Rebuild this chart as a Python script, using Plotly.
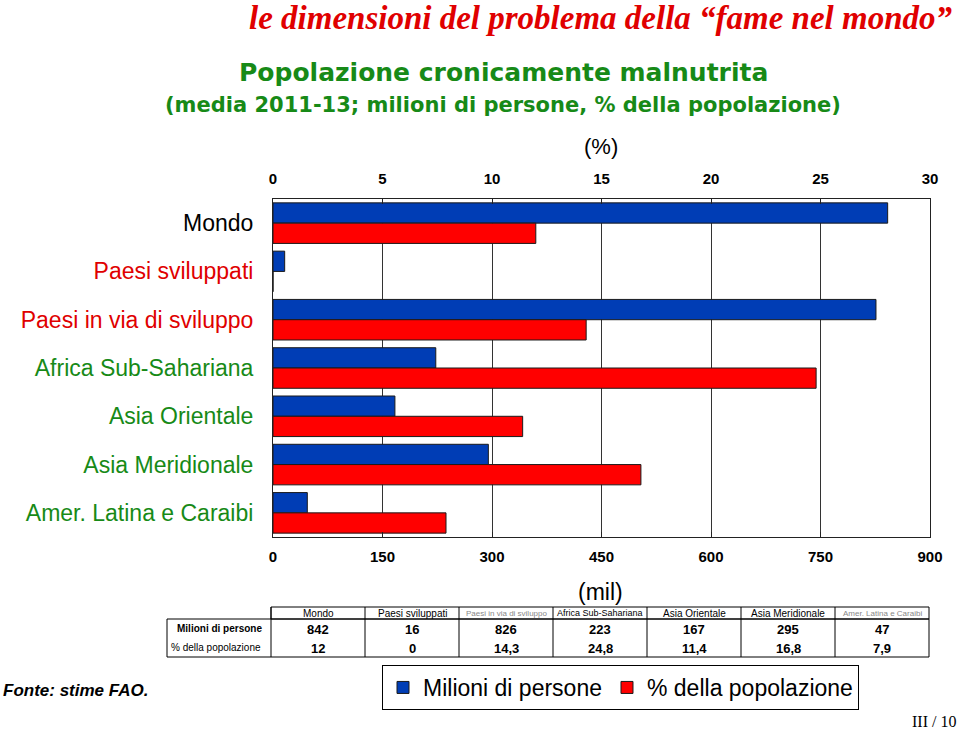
import plotly.graph_objects as go

# ---------------- data ----------------
categories = ["Mondo", "Paesi sviluppati", "Paesi in via di sviluppo",
              "Africa Sub-Sahariana", "Asia Orientale", "Asia Meridionale",
              "Amer. Latina e Caraibi"]
milioni = [842, 16, 826, 223, 167, 295, 47]
percentuale = [12, 0, 14.3, 24.8, 11.4, 16.8, 7.9]
label_colors = ["#000000", "#e00000", "#e00000", "#178a17", "#178a17", "#178a17", "#178a17"]
mil_ticks = [0, 150, 300, 450, 600, 750, 900]
pct_ticks = [0, 5, 10, 15, 20, 25, 30]
series_names = ["Milioni di persone", "% della popolazione"]
row_labels = ["Milioni di persone", "% della popolazione"]

W, H = 960, 729
def px(x):
    return x / W
def py(y):
    return 1 - y / H

BLUE = "#003db5"
RED = "#ff0000"
GREEN = "#178a17"

fig = go.Figure()
fig.add_trace(go.Bar(
    y=categories, x=milioni, orientation="h", name=series_names[0],
    marker=dict(color=BLUE, line=dict(color="#1a1a1a", width=1)),
    width=0.42, offset=-0.42, xaxis="x", yaxis="y"))
fig.add_trace(go.Bar(
    y=categories, x=percentuale, orientation="h", name=series_names[1],
    marker=dict(color=RED, line=dict(color="#1a1a1a", width=1)),
    width=0.42, offset=0.0, xaxis="x2", yaxis="y"))

tick_font = dict(family="Liberation Sans", size=15, color="black", weight="bold")
ticktext = [f"<span style='color:{c}'>{t}</span>" for t, c in zip(categories, label_colors)]

fig.update_layout(
    width=W, height=H, margin=dict(l=0, r=0, t=0, b=0),
    paper_bgcolor="white", plot_bgcolor="white",
    showlegend=True, barmode="overlay",
    xaxis=dict(domain=[px(273), px(930)], range=[0, 900], tickvals=mil_ticks,
               ticks="inside", ticklen=5, tickcolor="#222",
               showgrid=True, gridcolor="#333", gridwidth=1,
               showline=True, linecolor="#222", linewidth=1, mirror=True,
               zeroline=False, tickfont=tick_font, automargin=False,
               ticklabelstandoff=6, anchor="y"),
    xaxis2=dict(overlaying="x", side="top", range=[0, 30], tickvals=pct_ticks,
                ticks="inside", ticklen=5, tickcolor="#222",
                showgrid=False, showline=False, zeroline=False,
                tickfont=tick_font, automargin=False, anchor="y",
                ticklabelstandoff=11),
    yaxis=dict(domain=[py(537), py(199)], type="category",
               categoryorder="array", categoryarray=categories,
               range=[6.5, -0.5], tickvals=categories, ticktext=ticktext,
               showline=True, linecolor="#222", linewidth=1, mirror=True,
               showgrid=False, ticks="", automargin=False,
               ticklabelstandoff=14,
               tickfont=dict(family="Liberation Sans", size=23)),
    legend=dict(orientation="h", x=px(382), y=py(665), xanchor="left", yanchor="top",
                bordercolor="black", borderwidth=1, bgcolor="white",
                font=dict(family="Liberation Sans", size=23, color="black"),
                traceorder="normal", itemwidth=30),
)

ann = []
ann.append(dict(text="le dimensioni del problema della \u201cfame nel mondo\u201d",
                x=px(954), y=py(18), xanchor="right", yanchor="middle",
                font=dict(family="Liberation Serif", size=33, color="#e00000",
                          weight="bold", style="italic")))
ann.append(dict(text="Popolazione cronicamente malnutrita",
                x=px(503), y=py(73), xanchor="center", yanchor="middle",
                font=dict(family="DejaVu Sans", size=25, color=GREEN, weight="bold")))
ann.append(dict(text="(media 2011-13; milioni di persone, % della popolazione)",
                x=px(503), y=py(105), xanchor="center", yanchor="middle",
                font=dict(family="DejaVu Sans", size=21, color=GREEN, weight="bold")))
ann.append(dict(text="(%)", x=px(601), y=py(146), xanchor="center", yanchor="middle",
                font=dict(family="Liberation Sans", size=22, color="black")))
ann.append(dict(text="(mil)", x=px(600), y=py(592), xanchor="center", yanchor="middle",
                font=dict(family="Liberation Sans", size=23, color="black")))
ann.append(dict(text="Fonte: stime FAO.", x=px(1), y=py(690), xanchor="left", yanchor="middle",
                font=dict(family="Liberation Sans", size=17, color="black",
                          weight="bold", style="italic")))
ann.append(dict(text="III / 10", x=px(958), y=py(721), xanchor="right", yanchor="middle",
                font=dict(family="Liberation Serif", size=16, color="black")))

# ---------------- table ----------------
shapes = []
tx0, tcol, ncol = 271, 94, len(categories)
tl0 = 167
ytop, yhead, ybot = 607, 619, 657
tx_end = tx0 + tcol * ncol
line = dict(color="black", width=1)
shapes.append(dict(type="rect", xref="paper", yref="paper", x0=px(tx0), x1=px(tx_end),
                   y0=py(yhead), y1=py(ytop), line=line))
shapes.append(dict(type="rect", xref="paper", yref="paper", x0=px(tl0), x1=px(tx_end),
                   y0=py(ybot), y1=py(yhead), line=line))
for k in range(0, ncol):
    xx = tx0 + k * tcol
    shapes.append(dict(type="line", xref="paper", yref="paper", x0=px(xx), x1=px(xx),
                       y0=py(ybot), y1=py(ytop), line=line))

def fmt(v):
    if float(v).is_integer():
        return str(int(v))
    return f"{v:.1f}".replace(".", ",")

small_heads = {"Paesi in via di sviluppo", "Amer. Latina e Caraibi"}
for k, c in enumerate(categories):
    cx = tx0 + tcol * (k + 0.5)
    if c in small_heads:
        f = dict(family="Liberation Sans", size=8, color="#888")
    elif len(c) > 16:
        f = dict(family="Liberation Sans", size=9, color="black")
    else:
        f = dict(family="Liberation Sans", size=10, color="black")
    ann.append(dict(text=c, x=px(cx), y=py(613), xanchor="center", yanchor="middle", font=f))
    ann.append(dict(text=fmt(milioni[k]), x=px(cx), y=py(629), xanchor="center", yanchor="middle",
                    font=dict(family="Liberation Sans", size=13, color="black", weight="bold")))
    ann.append(dict(text=fmt(percentuale[k]), x=px(cx), y=py(648), xanchor="center", yanchor="middle",
                    font=dict(family="Liberation Sans", size=13, color="black", weight="bold")))
ann.append(dict(text=row_labels[0], x=px((tl0 + tx0) / 2), y=py(628), xanchor="center", yanchor="middle",
                font=dict(family="Liberation Sans", size=10, color="black", weight="bold")))
ann.append(dict(text=row_labels[1], x=px(tl0 + 2), y=py(647), xanchor="left", yanchor="middle",
                font=dict(family="Liberation Sans", size=10, color="black")))

for a in ann:
    a.update(xref="paper", yref="paper", showarrow=False)
fig.update_layout(annotations=ann, shapes=shapes)

fig.write_html("out.html", config={"displayModeBar": False},
               post_script="document.body.style.margin='0px';document.body.style.overflow='hidden';")
